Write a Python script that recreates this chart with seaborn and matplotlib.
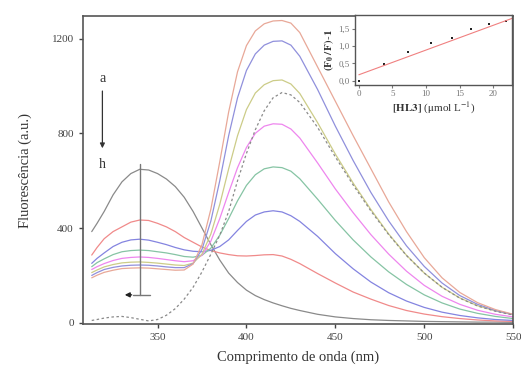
import matplotlib
matplotlib.use("Agg")
import matplotlib.pyplot as plt
import seaborn as sns
import pandas as pd

# emission wavelengths (nm)
wl = [313, 316, 320, 325, 330, 335, 340, 345, 350, 355, 360, 365, 370, 375, 380, 385, 390,
      395, 400, 405, 410, 415, 420, 425, 430, 440, 450, 460, 470, 480, 490, 500, 510,
      520, 530, 540, 550]

# fluorescence spectra a..h and the free ligand (dashed)
curve_a = [385, 420, 470, 540, 595, 630, 648, 645, 630, 607, 575, 530, 470, 400, 330, 265, 210,
           170, 138, 115, 98, 84, 72, 61, 52, 36, 25, 18, 13, 10, 8, 6, 5, 4, 3, 3, 2]
curve_b = [286, 318, 355, 385, 405, 425, 434, 432, 420, 405, 385, 360, 340, 320, 305, 295, 288,
           283, 282, 284, 287, 288, 282, 268, 250, 208, 168, 130, 100, 73, 52, 37, 26, 18, 12, 8, 6]
curve_c = [251, 272, 295, 322, 340, 350, 353, 349, 340, 330, 318, 308, 302, 300, 306, 322, 350,
           390, 428, 455, 468, 473, 468, 452, 428, 365, 292, 228, 172, 127, 92, 65, 45, 31, 21, 14, 10]
curve_d = [237, 254, 270, 288, 300, 305, 307, 305, 300, 295, 288, 280, 277, 285, 315, 370, 440,
           515, 580, 625, 650, 658, 655, 640, 608, 522, 432, 350, 278, 215, 162, 118, 84, 58, 40, 27, 18]
curve_e = [225, 237, 250, 263, 272, 276, 278, 276, 272, 267, 262, 258, 262, 285, 345, 440, 550,
           655, 740, 800, 830, 840, 838, 818, 780, 675, 565, 465, 372, 290, 218, 158, 112, 78, 53, 36, 25]
curve_f = [212, 223, 236, 246, 253, 256, 257, 255, 252, 248, 244, 242, 252, 290, 375, 500, 650,
           790, 900, 970, 1005, 1022, 1025, 1008, 968, 845, 712, 590, 478, 375, 285, 210, 150, 105,
           72, 50, 34]
curve_g = [200, 212, 225, 234, 240, 243, 244, 243, 240, 236, 233, 233, 250, 310, 430, 600, 790,
           950, 1065, 1135, 1172, 1188, 1190, 1172, 1125, 985, 830, 685, 550, 430, 325, 238, 168,
           115, 78, 52, 35]
curve_h = [190, 201, 213, 222, 229, 231, 232, 231, 228, 225, 222, 223, 248, 330, 480, 680, 890,
           1060, 1170, 1232, 1262, 1274, 1276, 1265, 1225, 1080, 935, 790, 650, 510, 385, 275, 190,
           128, 85, 56, 36]
ligand = [10, 14, 20, 25, 27, 22, 15, 8, 14, 32, 60, 100, 150, 215, 290, 370, 470,
          600, 715, 815, 895, 950, 972, 962, 930, 825, 700, 582, 472, 372, 284, 210, 150, 104,
          71, 49, 33]

curve_names = ["a", "b", "c", "d", "e", "f", "g", "h"]
curve_colors = ["#8a8a8a", "#f08a8a", "#8484e0", "#86c4a4", "#ee86ee",
                "#cccc88", "#9090dc", "#e8a898"]

# Stern-Volmer inset
conc = [0, 3.7, 7.3, 10.7, 13.8, 16.7, 19.4, 21.9]
sv = [0.0, 0.49, 0.83, 1.10, 1.24, 1.50, 1.63, 1.73]
fit_x = [0, 22.8]
fit_y = [0.17, 1.80]

sns.set_style("ticks")
plt.rcParams["font.family"] = ["Liberation Serif", "DejaVu Serif"]
plt.rcParams["mathtext.fontset"] = "stix"

fig = plt.figure(figsize=(5.21, 3.72), dpi=100)
ax = fig.add_axes([0.159, 0.129, 0.826, 0.828])

curves = [curve_a, curve_b, curve_c, curve_d, curve_e, curve_f, curve_g, curve_h]
for name, vals, col in zip(curve_names, curves, curve_colors):
    df = pd.DataFrame({"wl": wl, "F": vals})
    sns.lineplot(data=df, x="wl", y="F", color=col, lw=0.9, ax=ax)
df_l = pd.DataFrame({"wl": wl, "F": ligand})
sns.lineplot(data=df_l, x="wl", y="F", color="#8a8a8a", lw=0.9, ls=(0, (2, 2)), ax=ax)

ax.set_xlim(308, 550)
ax.set_ylim(-5, 1295)
ax.set_xticks([350, 400, 450, 500, 550])
ax.set_yticks([0, 400, 800, 1200])
ax.set_xlabel("Comprimento de onda (nm)", fontsize=10.5, color="#333333", labelpad=6)
ax.set_ylabel("Fluorescência (a.u.)", fontsize=10.5, color="#333333", labelpad=14)
ax.tick_params(labelsize=8, colors="#444444", length=3, width=1)
for s in ax.spines.values():
    s.set_color("#555555")
    s.set_linewidth(1.2)

# a -> h arrow
ax.text(319, 1030, "a", fontsize=10, ha="center", va="center", color="#333333")
ax.annotate("", xy=(319, 725), xytext=(319, 990),
            arrowprops=dict(arrowstyle="-|>", color="#333333", lw=0.9, mutation_scale=7))
ax.text(319, 670, "h", fontsize=10, ha="center", va="center", color="#333333")

# decrease of the 340 nm band
ax.plot([340, 340], [670, 118], color="#777777", lw=1.0)
ax.plot([336, 346], [118, 118], color="#777777", lw=1.0)
ax.annotate("", xy=(330, 118), xytext=(337, 118),
            arrowprops=dict(arrowstyle="-|>", color="#222222", lw=1.0, mutation_scale=7))

# inset
ins = fig.add_axes([0.681, 0.772, 0.302, 0.188])
sns.lineplot(x=fit_x, y=fit_y, color="#f08080", lw=0.8, ax=ins)
sns.scatterplot(x=conc, y=sv, color="#222222", marker="s", s=2.5, linewidth=0, ax=ins)
ins.set_xlim(-0.6, 22.8)
ins.set_ylim(-0.12, 1.9)
ins.set_xticks([0, 5, 10, 15, 20])
ins.set_yticks([0.0, 0.5, 1.0, 1.5])
ins.set_yticklabels(["0,0", "0,5", "1,0", "1,5"])
ins.tick_params(labelsize=6.5, colors="#777777", length=2, width=0.8, pad=1.5)
for s in ins.spines.values():
    s.set_color("#555555")
    s.set_linewidth(1.0)
ins.set_ylabel(r"$\mathbf{(F_0\,/\,F)\text{-}1}$", fontsize=8, color="#333333", labelpad=2)
ins.set_xlabel(r"$\mathbf{[HL3]}$ ($\mathrm{\mu}$mol L$^{-1}$)", fontsize=8,
               color="#333333", labelpad=2)

fig.savefig("out.png", dpi=100)
